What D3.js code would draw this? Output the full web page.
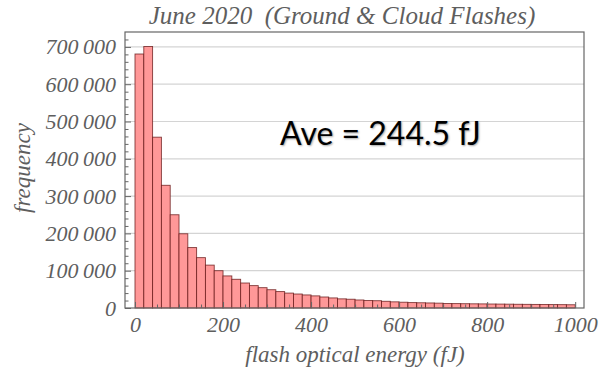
<!DOCTYPE html>
<html>
<head>
<meta charset="utf-8">
<script src="https://cdn.jsdelivr.net/npm/d3@7"></script>
<style>
  html, body { margin: 0; padding: 0; background: #fff; }
  svg { display: block; }
</style>
</head>
<body>
<svg id="chart" width="602" height="374"></svg>
<script>
// ---- data ----
const binStarts = [0,20,40,60,80,100,120,140,160,180,200,220,240,260,280,300,320,340,360,380,
  400,420,440,460,480,500,520,540,560,580,600,620,640,660,680,700,720,740,760,780,
  800,820,840,860,880,900,920,940,960,980];
const binWidth = 20;
const counts = [681000,701000,458000,329000,250000,199000,162000,135000,115000,100000,
  86000,77000,67000,60000,54500,49000,44000,40000,37500,35000,
  32500,29500,27000,24500,23500,21500,20000,19500,18000,16500,
  15500,14500,14000,13500,13000,12000,11800,11500,11200,11000,
  10700,10500,10300,10000,9800,9600,9400,9200,9000,8700];
const xTicks = [0,200,400,600,800,1000];
const xTickLabels = ["0","200","400","600","800","1000"];
const yTicks = [0,100000,200000,300000,400000,500000,600000,700000];
const yTickLabels = ["0","100\u2009000","200\u2009000","300\u2009000","400\u2009000","500\u2009000","600\u2009000","700\u2009000"];
const titleText = "June 2020\u00a0 (Ground & Cloud Flashes)";
const xTitle = "flash optical energy (fJ)";
const yTitle = "frequency";
const noteText = "Ave = 244.5 fJ";

// ---- layout ----
const svg = d3.select("#chart");
const pL = 125, pR = 584, pT = 32, pB = 308;
const x = d3.scaleLinear().domain([-22.7, 1020]).range([pL, pR]);
const y = d3.scaleLinear().domain([0, 740000]).range([pB, pT]);
const serif = "'Liberation Serif', 'Times New Roman', serif";
const labelColor = "#5e5e5e";

// gridlines
svg.append("g").selectAll("line").data(yTicks.filter(d => d > 0)).join("line")
  .attr("x1", pL).attr("x2", pR)
  .attr("y1", d => y(d)).attr("y2", d => y(d))
  .attr("stroke", "#d4d4d4").attr("stroke-width", 1.2);

// bars
svg.append("g").selectAll("rect").data(counts).join("rect")
  .attr("x", (d, i) => x(binStarts[i]))
  .attr("width", (d, i) => x(binStarts[i] + binWidth) - x(binStarts[i]))
  .attr("y", d => y(d))
  .attr("height", d => y(0) - y(d))
  .attr("fill", "#ff9898")
  .attr("stroke", "rgba(100,20,20,0.8)")
  .attr("stroke-width", 0.9);

// axes (ticks inward)
const yAxis = d3.axisLeft(y).tickValues(yTicks).tickFormat((d, i) => yTickLabels[i]).tickSizeInner(-6).tickSizeOuter(0).tickPadding(9);
const yMinor = d3.axisLeft(y).tickValues(d3.range(0, 740000, 20000).filter(v => v % 100000 !== 0)).tickFormat("").tickSizeInner(-3.5).tickSizeOuter(0);
const xAxis = d3.axisBottom(x).tickValues(xTicks).tickFormat((d, i) => xTickLabels[i]).tickSizeInner(-6).tickSizeOuter(0).tickPadding(8);
const xMinor = d3.axisBottom(x).tickValues(d3.range(50, 1000, 50).filter(v => v % 200 !== 0)).tickFormat("").tickSizeInner(-3.5).tickSizeOuter(0);

function styleAxis(g) {
  g.select(".domain").remove();
  g.selectAll("line").attr("stroke", "#666").attr("stroke-width", 1);
  g.selectAll("text").attr("fill", labelColor).style("font-family", serif)
    .style("font-style", "italic").style("font-size", "22px");
}
svg.append("g").attr("transform", `translate(${pL},0)`).call(yAxis).call(styleAxis);
svg.append("g").attr("transform", `translate(${pL},0)`).call(yMinor).call(styleAxis);
svg.append("g").attr("transform", `translate(0,${pB})`).call(xAxis).call(styleAxis);
svg.append("g").attr("transform", `translate(0,${pB})`).call(xMinor).call(styleAxis);

// frame
svg.append("rect").attr("x", pL).attr("y", pT).attr("width", pR - pL).attr("height", pB - pT)
  .attr("fill", "none").attr("stroke", "#666").attr("stroke-width", 1.2);

// title
svg.append("text").attr("x", 342).attr("y", 24).attr("text-anchor", "middle")
  .style("font-family", serif).style("font-style", "italic").style("font-size", "25px")
  .attr("fill", labelColor).text(titleText);

// axis titles
svg.append("text").attr("x", 355).attr("y", 362).attr("text-anchor", "middle")
  .style("font-family", serif).style("font-style", "italic").style("font-size", "23px")
  .attr("fill", labelColor).text(xTitle);
svg.append("text").attr("transform", "translate(30,168) rotate(-90)").attr("text-anchor", "middle")
  .style("font-family", serif).style("font-style", "italic").style("font-size", "23px")
  .attr("fill", labelColor).text(yTitle);

// annotation
svg.append("text").attr("x", 280).attr("y", 145)
  .style("font-family", "Lato, 'Open Sans', sans-serif").style("font-size", "32px")
  .style("text-shadow", "1px 1px 2px rgba(0,0,0,0.35)")
  .attr("fill", "#000").text(noteText);
</script>
</body>
</html>
